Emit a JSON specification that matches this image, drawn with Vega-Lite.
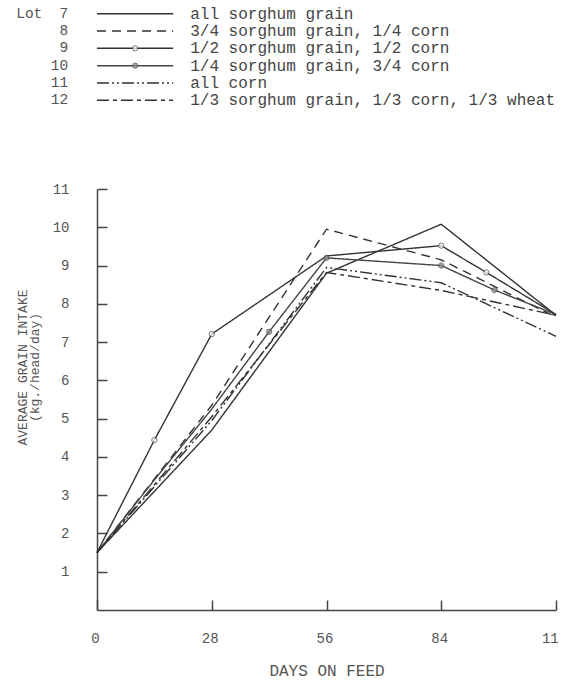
{
  "$schema": "https://vega.github.io/schema/vega-lite/v6.json",
  "background": "white",
  "padding": {"left": 16, "top": 5, "right": -9, "bottom": 3},
  "bounds": "flush",
  "spacing": 80,
  "config": {
    "view": {"stroke": null},
    "font": "Liberation Mono",
    "text": {"font": "Liberation Mono"},
    "axis": {
      "grid": false,
      "domainColor": "#444",
      "domainWidth": 1.5,
      "tickColor": "#444",
      "tickWidth": 1.5,
      "labelFont": "Liberation Mono",
      "labelFontSize": 14,
      "labelColor": "#555",
      "labelFlush": false,
      "titleFont": "Liberation Mono",
      "titleFontSize": 13,
      "titleFontWeight": "normal",
      "titleColor": "#555"
    }
  },
  "datasets": {
    "lots": [
      {"lot": 7, "header": "Lot", "desc": "all sorghum grain"},
      {"lot": 8, "header": "", "desc": "3/4 sorghum grain, 1/4 corn"},
      {"lot": 9, "header": "", "desc": "1/2 sorghum grain, 1/2 corn"},
      {"lot": 10, "header": "", "desc": "1/4 sorghum grain, 3/4 corn"},
      {"lot": 11, "header": "", "desc": "all corn"},
      {"lot": 12, "header": "", "desc": "1/3 sorghum grain, 1/3 corn, 1/3 wheat"}
    ],
    "intake": [
      {"lot": 7, "day": 0, "intake": 1.5},
      {"lot": 7, "day": 28, "intake": 4.7},
      {"lot": 7, "day": 56, "intake": 8.8},
      {"lot": 7, "day": 84, "intake": 10.08},
      {"lot": 7, "day": 112, "intake": 7.7},
      {"lot": 8, "day": 0, "intake": 1.5},
      {"lot": 8, "day": 28, "intake": 5.35},
      {"lot": 8, "day": 56, "intake": 9.95},
      {"lot": 8, "day": 84, "intake": 9.15},
      {"lot": 8, "day": 112, "intake": 7.65},
      {"lot": 9, "day": 0, "intake": 1.5},
      {"lot": 9, "day": 14, "intake": 4.44},
      {"lot": 9, "day": 28, "intake": 7.21},
      {"lot": 9, "day": 56, "intake": 9.25},
      {"lot": 9, "day": 84, "intake": 9.52},
      {"lot": 9, "day": 95, "intake": 8.82},
      {"lot": 9, "day": 112, "intake": 7.72},
      {"lot": 10, "day": 0, "intake": 1.5},
      {"lot": 10, "day": 14, "intake": 3.4},
      {"lot": 10, "day": 28, "intake": 5.25},
      {"lot": 10, "day": 42, "intake": 7.27},
      {"lot": 10, "day": 56, "intake": 9.2},
      {"lot": 10, "day": 84, "intake": 9.0},
      {"lot": 10, "day": 97, "intake": 8.36},
      {"lot": 10, "day": 112, "intake": 7.72},
      {"lot": 11, "day": 0, "intake": 1.5},
      {"lot": 11, "day": 28, "intake": 4.95},
      {"lot": 11, "day": 56, "intake": 8.95},
      {"lot": 11, "day": 84, "intake": 8.55},
      {"lot": 11, "day": 112, "intake": 7.15},
      {"lot": 12, "day": 0, "intake": 1.5},
      {"lot": 12, "day": 28, "intake": 5.05},
      {"lot": 12, "day": 56, "intake": 8.82},
      {"lot": 12, "day": 84, "intake": 8.35},
      {"lot": 12, "day": 112, "intake": 7.7}
    ]
  },
  "vconcat": [
    {
      "width": 459,
      "height": 104,
      "data": {"name": "lots"},
      "encoding": {
        "y": {"field": "lot", "type": "ordinal", "scale": {"type": "point", "padding": 0.5}, "axis": null}
      },
      "layer": [
        {
          "mark": {"type": "rule", "strokeWidth": 1.5},
          "encoding": {
            "x": {"datum": 0, "type": "quantitative", "scale": {"domain": [0, 100], "nice": false, "zero": false}, "axis": null},
            "x2": {"datum": 16.6},
            "color": {"field": "lot", "type": "nominal", "scale": {"domain": [7, 8, 9, 10, 11, 12], "range": ["#333", "#333", "#333", "#444", "#333", "#333"]}, "legend": null},
            "strokeDash": {"field": "lot", "type": "nominal", "scale": {"domain": [7, 8, 9, 10, 11, 12], "range": [[1, 0], [9, 6], [1, 0], [1, 0], [12, 3, 2, 3, 2, 3], [12, 4, 4, 4]]}, "legend": null}
          }
        },
        {
          "transform": [{"filter": "datum.lot == 9 || datum.lot == 10"}],
          "mark": {"type": "point", "filled": true, "size": 28, "stroke": "#444", "strokeWidth": 1},
          "encoding": {
            "x": {"datum": 8.3, "type": "quantitative", "axis": null},
            "fill": {"field": "lot", "type": "nominal", "scale": {"domain": [9, 10], "range": ["#ffffff", "#8a8a8a"]}, "legend": null}
          }
        },
        {
          "mark": {"type": "text", "align": "right", "baseline": "middle", "fontSize": 14.5, "color": "#555"},
          "encoding": {
            "x": {"datum": -6.3, "type": "quantitative", "axis": null},
            "text": {"field": "lot"}
          }
        },
        {
          "mark": {"type": "text", "align": "left", "baseline": "middle", "fontSize": 14.5, "color": "#555"},
          "encoding": {
            "x": {"datum": -17.6, "type": "quantitative", "axis": null},
            "text": {"field": "header"}
          }
        },
        {
          "mark": {"type": "text", "align": "left", "baseline": "middle", "fontSize": 16, "color": "#444"},
          "encoding": {
            "x": {"datum": 20.3, "type": "quantitative", "axis": null},
            "text": {"field": "desc"}
          }
        }
      ]
    },
    {
      "width": 459,
      "height": 421,
      "data": {"name": "intake"},
      "encoding": {
        "x": {"field": "day", "type": "quantitative", "scale": {"domain": [0, 112], "nice": false, "zero": false},
          "axis": {"values": [0, 28, 56, 84, 112], "title": "DAYS ON FEED", "tickSize": -10, "labelPadding": 31, "labelOffset": -2, "titlePadding": 17, "titleFontSize": 16}},
        "y": {"field": "intake", "type": "quantitative", "scale": {"domain": [0, 11], "nice": false, "zero": false},
          "axis": {"values": [1, 2, 3, 4, 5, 6, 7, 8, 9, 10, 11], "title": ["AVERAGE GRAIN INTAKE", "(kg./head/day)"], "tickSize": -10, "labelPadding": 38, "titleX": -75, "titleY": 178, "titleAlign": "center", "titleBaseline": "middle", "titleLineHeight": 12}}
      },
      "layer": [
        {
          "mark": {"type": "line", "strokeWidth": 1.4},
          "encoding": {
            "color": {"field": "lot", "type": "nominal", "scale": {"domain": [7, 8, 9, 10, 11, 12], "range": ["#333", "#333", "#333", "#444", "#333", "#333"]}, "legend": null},
            "strokeDash": {"field": "lot", "type": "nominal", "scale": {"domain": [7, 8, 9, 10, 11, 12], "range": [[1, 0], [9, 6], [1, 0], [1, 0], [12, 3, 2, 3, 2, 3], [12, 4, 4, 4]]}, "legend": null}
          }
        },
        {
          "transform": [{"filter": "(datum.lot == 9 && datum.day > 0 && datum.day != 56 && datum.day < 112) || (datum.lot == 10 && datum.day >= 42 && datum.day < 112)"}],
          "mark": {"type": "point", "filled": true, "size": 28, "stroke": "#444", "strokeWidth": 1},
          "encoding": {
            "fill": {"field": "lot", "type": "nominal", "scale": {"domain": [9, 10], "range": ["#ffffff", "#8a8a8a"]}, "legend": null}
          }
        }
      ]
    }
  ]
}
